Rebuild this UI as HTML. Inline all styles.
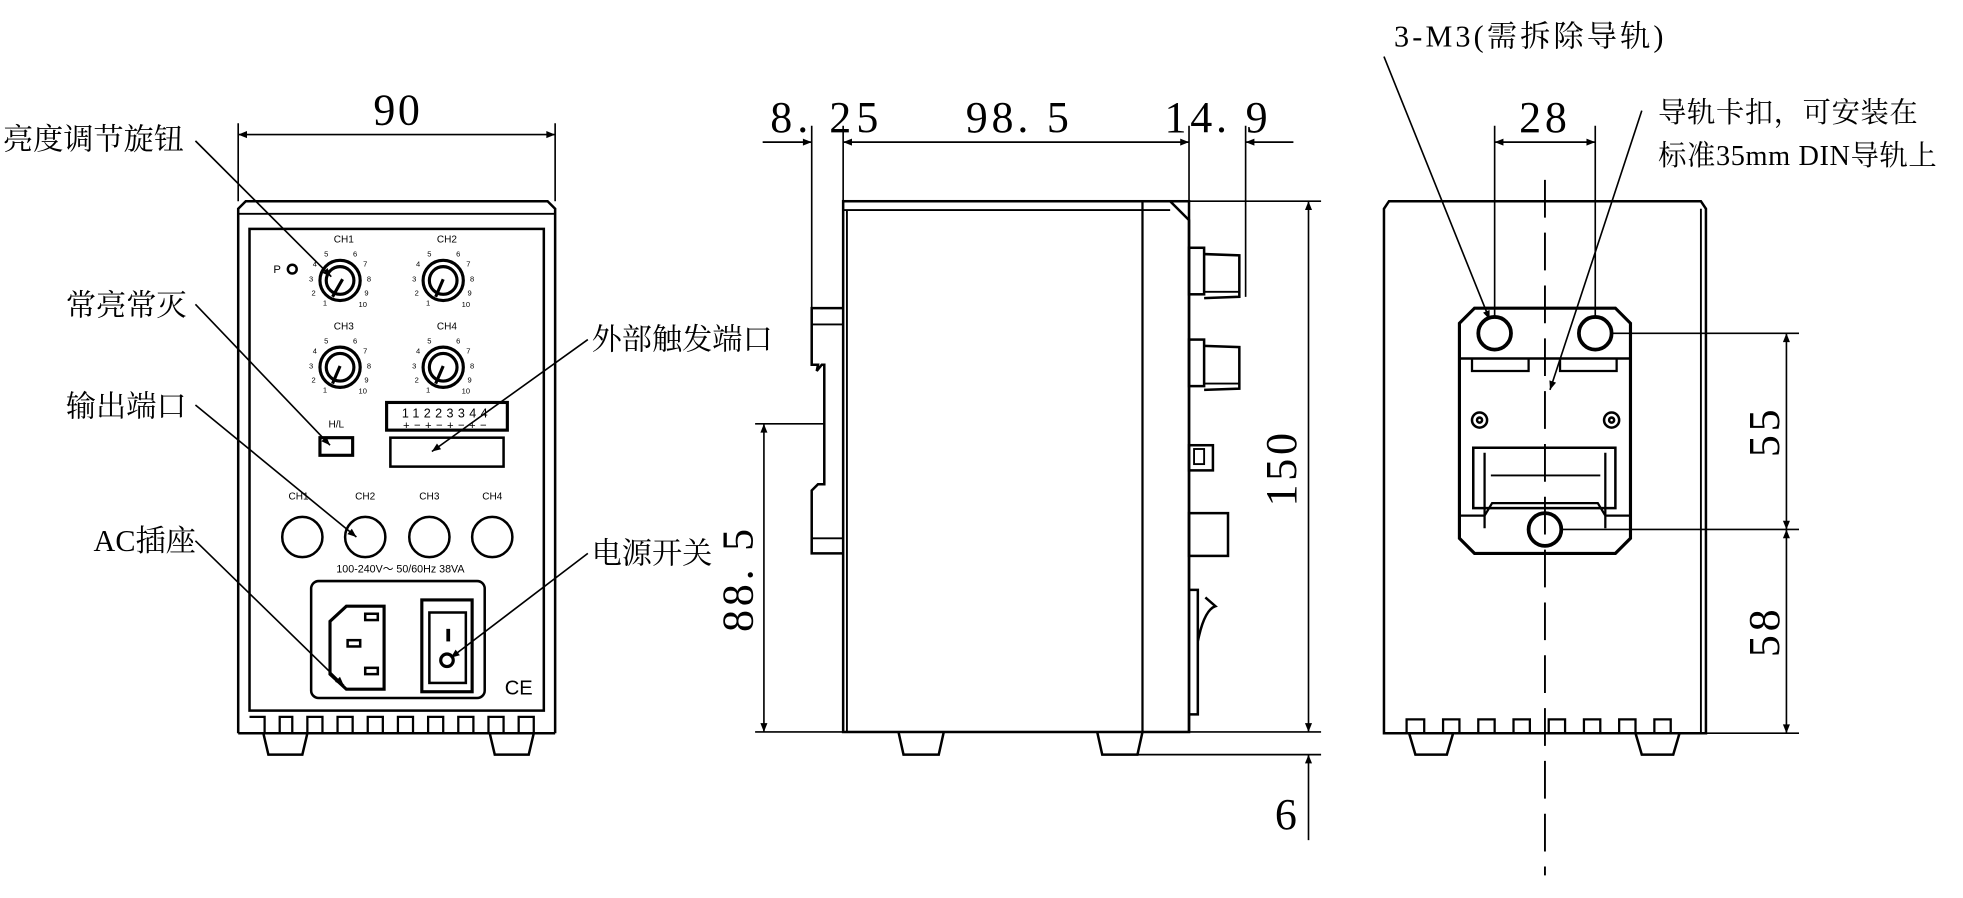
<!DOCTYPE html>
<html><head><meta charset="utf-8"><style>
html,body{margin:0;padding:0;background:#fff;}
svg{display:block;}
.t{font-family:"Liberation Serif","Noto Serif CJK SC","Noto Sans CJK SC",serif;fill:#000;}
.s{font-family:"Liberation Sans","Noto Sans CJK SC",sans-serif;fill:#000;}
</style></head><body>
<svg width="1963" height="898" viewBox="0 0 1560 714" xmlns="http://www.w3.org/2000/svg">
<defs>
<marker id="a" viewBox="0 0 10 10" refX="10" refY="5" markerWidth="10" markerHeight="7" orient="auto-start-reverse" markerUnits="userSpaceOnUse"><path d="M0,1 L10,5 L0,9 z" fill="#000"/></marker>
</defs>
<g fill="none" stroke="#000" stroke-width="2">
<!-- FRONT VIEW -->
<path d="M189,583 L189,166 L195,160 L435,160 L441,166 L441,583"/>
<line x1="189" y1="170" x2="441" y2="170" stroke-width="1.5"/>
<rect x="198" y="182" width="234" height="383" stroke-width="2"/>
<path d="M198,570 L210,570 L210,583 M222,583 L222,570 L232,570 L232,583 M244,583 L244,570 L256,570 L256,583 M268,583 L268,570 L280,570 L280,583 M292,583 L292,570 L304,570 L304,583 M316,583 L316,570 L328,570 L328,583 M340,583 L340,570 L352,570 L352,583 M364,583 L364,570 L376,570 L376,583 M388,583 L388,570 L400,570 L400,583 M412,583 L412,570 L424,570 L424,583" stroke-width="1.8"/>
<line x1="189" y1="583" x2="441" y2="583"/>
<path d="M209,583 L213,600 L240,600 L244,583 M389,583 L393,600 L420,600 L424,583"/>
<g stroke-width="2.5">
<circle cx="270" cy="223" r="16"/><circle cx="270" cy="223" r="11"/>
<circle cx="352" cy="223" r="16"/><circle cx="352" cy="223" r="11"/>
<circle cx="270" cy="292" r="16"/><circle cx="270" cy="292" r="11"/>
<circle cx="352" cy="292" r="16"/><circle cx="352" cy="292" r="11"/>
</g>
<path d="M272,222 L264,236 M352,222 L346,236 M270,291 L264,305 M352,291 L346,305" stroke-width="2.5"/>
<circle cx="232" cy="214" r="3.5"/>
<rect x="307" y="320" width="96" height="22" stroke-width="2.5"/>
<rect x="310" y="348" width="90" height="23"/>
<rect x="254" y="348" width="26" height="14" stroke-width="2.5"/>
<circle cx="240" cy="427" r="16"/><circle cx="290" cy="427" r="16"/><circle cx="341" cy="427" r="16"/><circle cx="391" cy="427" r="16"/>
<rect x="247" y="462" width="138" height="93" rx="6"/>
<path d="M275,482 L305,482 L305,548 L275,548 L262,536 L262,494 Z" stroke-width="2.5"/>
<rect x="290" y="488" width="10" height="5"/><rect x="276" y="509" width="10" height="5"/><rect x="290" y="531" width="10" height="5"/>
<rect x="335" y="477" width="40" height="73" stroke-width="2.5"/>
<rect x="341" y="487" width="29" height="56"/>
<line x1="356" y1="500" x2="356" y2="510" stroke-width="3"/>
<circle cx="355" cy="525" r="5" stroke-width="2.5"/>
<!-- SIDE VIEW -->
<rect x="670" y="160" width="275" height="422" stroke-width="2"/>
<line x1="670" y1="167" x2="930" y2="167" stroke-width="1.5"/>
<line x1="673" y1="167" x2="673" y2="582" stroke-width="1.5"/>
<line x1="908" y1="160" x2="908" y2="582" stroke-width="1.8"/>
<path d="M930,160 L945,175 L945,582"/>
<path d="M670,245 L645,245 L645,290 L650,290 L649,295 L653,290 L655,290 L655,385 L650,385 L645,390 L645,440 L670,440"/>
<line x1="645" y1="258" x2="670" y2="258" stroke-width="1.5"/>
<line x1="645" y1="428" x2="670" y2="428" stroke-width="1.5"/>
<rect x="945" y="197" width="12" height="37"/><path d="M957,202 L985,203 L985,236 L957,237"/><line x1="957" y1="232" x2="985" y2="232" stroke-width="1.5"/>
<rect x="945" y="270" width="12" height="37"/><path d="M957,275 L985,276 L985,309 L957,310"/><line x1="957" y1="305" x2="985" y2="305" stroke-width="1.5"/>
<rect x="945" y="354" width="19" height="20"/><rect x="949" y="357" width="8" height="12" stroke-width="1.5"/>
<rect x="945" y="408" width="31" height="34"/>
<path d="M945,469 L952,469 L952,568 L945,568 M952,510 Q957,485 966,482 L958,475"/>
<path d="M714,582 L718,600 L746,600 L750,582 M872,582 L876,600 L904,600 L908,582"/>
<!-- REAR VIEW -->
<path d="M1100,583 L1100,166 L1104,160 L1352,160 L1356,166 L1356,583 Z"/>
<line x1="1352" y1="166" x2="1352" y2="583" stroke-width="1.5"/>
<path d="M1100,583 L1118,583 L1118,572 L1132,572 L1132,583 M1147,583 L1147,572 L1160,572 L1160,583 M1175,583 L1175,572 L1188,572 L1188,583 M1203,583 L1203,572 L1216,572 L1216,583 M1231,583 L1231,572 L1244,572 L1244,583 M1259,583 L1259,572 L1272,572 L1272,583 M1287,583 L1287,572 L1300,572 L1300,583 M1315,583 L1315,572 L1328,572 L1328,583" stroke-width="1.8"/>
<path d="M1120,583 L1125,600 L1150,600 L1155,583 M1300,583 L1305,600 L1330,600 L1335,583"/>
<path d="M1172,245 L1284,245 L1296,257 L1296,428 L1284,440 L1172,440 L1160,428 L1160,257 Z" stroke-width="2.5"/>
<line x1="1160" y1="285" x2="1296" y2="285"/>
<path d="M1170,285 L1170,295 L1215,295 L1215,285 M1240,285 L1240,295 L1285,295 L1285,285" stroke-width="1.8"/>
<circle cx="1176" cy="334" r="6"/><circle cx="1176" cy="334" r="2"/>
<circle cx="1281" cy="334" r="6"/><circle cx="1281" cy="334" r="2"/>
<rect x="1171" y="356" width="113" height="48" stroke-width="2"/>
<path d="M1160,410 L1180,410 L1186,400 L1270,400 L1276,410 L1296,410 M1180,360 L1180,420 M1276,360 L1276,420" stroke-width="1.8"/>
<line x1="1185" y1="378" x2="1272" y2="378" stroke-width="1.5"/>
<g stroke-width="3"><circle cx="1188" cy="265" r="13"/><circle cx="1268" cy="265" r="13"/><circle cx="1228" cy="421" r="13"/></g>
<line x1="1228" y1="143" x2="1228" y2="696" stroke-width="1.5" stroke-dasharray="30,12"/>
</g>
<g fill="none" stroke="#000" stroke-width="1.3">
<line x1="189" y1="98" x2="189" y2="160"/><line x1="441" y1="98" x2="441" y2="160"/>
<line x1="189" y1="107" x2="441" y2="107" marker-start="url(#a)" marker-end="url(#a)"/>
<line x1="645" y1="100" x2="645" y2="245"/><line x1="670" y1="100" x2="670" y2="160"/>
<line x1="945" y1="100" x2="945" y2="160"/><line x1="990" y1="100" x2="990" y2="236"/>
<line x1="606" y1="113" x2="645" y2="113" marker-end="url(#a)"/>
<line x1="670" y1="113" x2="945" y2="113" marker-start="url(#a)" marker-end="url(#a)"/>
<line x1="990" y1="113" x2="1028" y2="113" marker-start="url(#a)"/>
<line x1="945" y1="160" x2="1050" y2="160"/><line x1="908" y1="582" x2="1050" y2="582"/>
<line x1="1040" y1="160" x2="1040" y2="582" marker-start="url(#a)" marker-end="url(#a)"/>
<line x1="600" y1="337" x2="655" y2="337"/><line x1="600" y1="582" x2="670" y2="582"/>
<line x1="607" y1="337" x2="607" y2="582" marker-start="url(#a)" marker-end="url(#a)"/>
<line x1="900" y1="600" x2="1050" y2="600"/>
<line x1="1040" y1="600" x2="1040" y2="668" marker-start="url(#a)"/>
<line x1="1188" y1="100" x2="1188" y2="252"/><line x1="1268" y1="100" x2="1268" y2="252"/>
<line x1="1188" y1="113" x2="1268" y2="113" marker-start="url(#a)" marker-end="url(#a)"/>
<line x1="1281" y1="265" x2="1430" y2="265"/><line x1="1241" y1="421" x2="1430" y2="421"/><line x1="1356" y1="583" x2="1430" y2="583"/>
<line x1="1420" y1="265" x2="1420" y2="421" marker-start="url(#a)" marker-end="url(#a)"/>
<line x1="1420" y1="421" x2="1420" y2="583" marker-start="url(#a)" marker-end="url(#a)"/>
<line x1="1100" y1="45" x2="1184" y2="254" marker-end="url(#a)"/>
<line x1="1305" y1="88" x2="1232" y2="310" marker-end="url(#a)"/>
<line x1="155" y1="112" x2="263" y2="220" marker-end="url(#a)"/>
<line x1="155" y1="242" x2="262" y2="354" marker-end="url(#a)"/>
<line x1="155" y1="322" x2="283" y2="427" marker-end="url(#a)"/>
<line x1="155" y1="430" x2="273" y2="545" marker-end="url(#a)"/>
<line x1="467" y1="270" x2="343" y2="359" marker-end="url(#a)"/>
<line x1="467" y1="440" x2="358" y2="523" marker-end="url(#a)"/>
</g>
<g class="t">
<text x="316" y="99" font-size="35" letter-spacing="2" text-anchor="middle">90</text>
<text x="657" y="105" font-size="35" letter-spacing="4" text-anchor="middle">8. 25</text>
<text x="810" y="105" font-size="35" letter-spacing="3" text-anchor="middle">98. 5</text>
<text x="968" y="105" font-size="35" letter-spacing="3" text-anchor="middle">14. 9</text>
<text x="1228" y="105" font-size="35" letter-spacing="3" text-anchor="middle">28</text>
<text font-size="35" letter-spacing="3" text-anchor="middle" transform="translate(1030,372) rotate(-90)">150</text>
<text font-size="35" letter-spacing="3" text-anchor="middle" transform="translate(598,460) rotate(-90)">88. 5</text>
<text x="1022" y="659" font-size="35" text-anchor="middle">6</text>
<text font-size="35" letter-spacing="3" text-anchor="middle" transform="translate(1414,343) rotate(-90)">55</text>
<text font-size="35" letter-spacing="3" text-anchor="middle" transform="translate(1414,502) rotate(-90)">58</text>
<text x="1108" y="37" font-size="24" letter-spacing="2.5">3-M3(需拆除导轨)</text>
<text x="1318" y="97" font-size="22.5" letter-spacing="0.5">导轨卡扣，可安装在</text>
<text x="1318" y="131" font-size="22.5" letter-spacing="0.5">标准35mm DIN导轨上</text>
<text x="2" y="119" font-size="24">亮度调节旋钮</text>
<text x="52" y="251" font-size="24">常亮常灭</text>
<text x="52" y="331" font-size="24">输出端口</text>
<text x="74" y="438" font-size="24">AC插座</text>
<text x="470" y="278" font-size="24">外部触发端口</text>
<text x="470" y="448" font-size="24">电源开关</text>
</g>
<g class="s" font-size="8" text-anchor="middle">
<text x="273" y="193">CH1</text><text x="355" y="193">CH2</text>
<text x="273" y="262">CH3</text><text x="355" y="262">CH4</text>
<text x="220" y="217" font-size="9">P</text>
<text x="267" y="340">H/L</text>
<text x="237" y="397">CH1</text><text x="290" y="397">CH2</text><text x="341" y="397">CH3</text><text x="391" y="397">CH4</text>
<text x="318" y="455" font-size="8.5">100-240V～ 50/60Hz 38VA</text>
<text x="355" y="332" font-size="10" letter-spacing="3.5">11223344</text>
<text x="355" y="341" font-size="9" letter-spacing="3.5">+−+−+−+−</text>
<text x="412" y="552" font-size="16">CE</text>
</g>
<g class="s" font-size="6" text-anchor="middle">
<text x="259" y="204">5</text><text x="282" y="204">6</text><text x="250" y="212">4</text><text x="290" y="212">7</text><text x="247" y="224">3</text><text x="293" y="224">8</text><text x="249" y="235">2</text><text x="291" y="235">9</text><text x="258" y="243">1</text><text x="288" y="244">10</text>
<text x="341" y="204">5</text><text x="364" y="204">6</text><text x="332" y="212">4</text><text x="372" y="212">7</text><text x="329" y="224">3</text><text x="375" y="224">8</text><text x="331" y="235">2</text><text x="373" y="235">9</text><text x="340" y="243">1</text><text x="370" y="244">10</text>
<text x="259" y="273">5</text><text x="282" y="273">6</text><text x="250" y="281">4</text><text x="290" y="281">7</text><text x="247" y="293">3</text><text x="293" y="293">8</text><text x="249" y="304">2</text><text x="291" y="304">9</text><text x="258" y="312">1</text><text x="288" y="313">10</text>
<text x="341" y="273">5</text><text x="364" y="273">6</text><text x="332" y="281">4</text><text x="372" y="281">7</text><text x="329" y="293">3</text><text x="375" y="293">8</text><text x="331" y="304">2</text><text x="373" y="304">9</text><text x="340" y="312">1</text><text x="370" y="313">10</text>
</g>
</svg>
</body></html>
